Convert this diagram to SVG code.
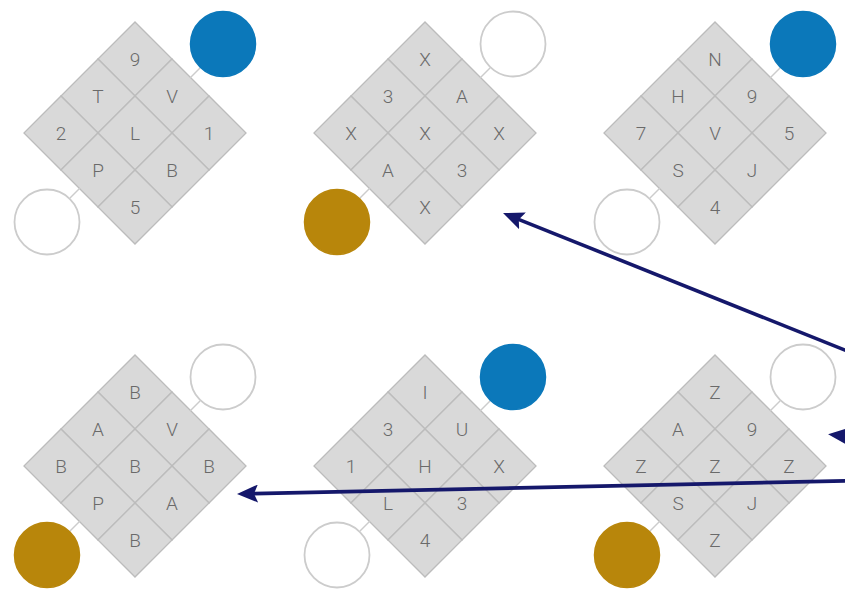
<svg xmlns="http://www.w3.org/2000/svg" width="845" height="592" viewBox="0 0 845 592">
<defs>
<style>
.cell{fill:#d9d9d9;stroke:#bcbcbc;stroke-width:1.3}
.lbl{font-family:Roboto,"Liberation Sans",sans-serif;font-weight:300;font-size:19px;fill:#6a6a6a;text-anchor:middle;dominant-baseline:central}
.blue{fill:#0b78ba;stroke:#0b78ba;stroke-width:1.5}
.gold{fill:#b8860b;stroke:#b8860b;stroke-width:1.5}
.white{fill:#ffffff;stroke:#cccccc;stroke-width:1.8}
.tie{stroke:#cccccc;stroke-width:1.5}
.arrow{stroke:#15186b;stroke-width:3.6;fill:none;marker-end:url(#ah)}
</style>
<marker id="ah" markerUnits="userSpaceOnUse" markerWidth="22" markerHeight="18" viewBox="0 0 22 18" refX="7" refY="9" orient="auto">
<path d="M0,0 L21,9 L0,18 L4,9 z" fill="#15186b"/>
</marker>
<g id="grid">
<g transform="rotate(45)">
<rect class="cell" x="-78.5" y="-78.5" width="52.33" height="52.33"/>
<rect class="cell" x="-26.17" y="-78.5" width="52.33" height="52.33"/>
<rect class="cell" x="26.17" y="-78.5" width="52.33" height="52.33"/>
<rect class="cell" x="-78.5" y="-26.17" width="52.33" height="52.33"/>
<rect class="cell" x="-26.17" y="-26.17" width="52.33" height="52.33"/>
<rect class="cell" x="26.17" y="-26.17" width="52.33" height="52.33"/>
<rect class="cell" x="-78.5" y="26.17" width="52.33" height="52.33"/>
<rect class="cell" x="-26.17" y="26.17" width="52.33" height="52.33"/>
<rect class="cell" x="26.17" y="26.17" width="52.33" height="52.33"/>
</g>
<line class="tie" x1="55" y1="-55" x2="65" y2="-65"/>
<line class="tie" x1="-55" y1="55" x2="-65" y2="65"/>
</g>
</defs>

<g id="node1" transform="translate(135,133)">
<use href="#grid"/>
<circle class="blue" cx="88" cy="-89" r="32.5"/>
<circle class="white" cx="-88" cy="89" r="32.5"/>
<text class="lbl" x="0" y="-74">9</text>
<text class="lbl" x="-37" y="-37">T</text><text class="lbl" x="37" y="-37">V</text>
<text class="lbl" x="-74" y="0">2</text><text class="lbl" x="0" y="0">L</text><text class="lbl" x="74" y="0">1</text>
<text class="lbl" x="-37" y="37">P</text><text class="lbl" x="37" y="37">B</text>
<text class="lbl" x="0" y="74">5</text>
</g>

<g id="node2" transform="translate(425,133)">
<use href="#grid"/>
<circle class="white" cx="88" cy="-89" r="32.5"/>
<circle class="gold" cx="-88" cy="89" r="32.5"/>
<text class="lbl" x="0" y="-74">X</text>
<text class="lbl" x="-37" y="-37">3</text><text class="lbl" x="37" y="-37">A</text>
<text class="lbl" x="-74" y="0">X</text><text class="lbl" x="0" y="0">X</text><text class="lbl" x="74" y="0">X</text>
<text class="lbl" x="-37" y="37">A</text><text class="lbl" x="37" y="37">3</text>
<text class="lbl" x="0" y="74">X</text>
</g>

<g id="node3" transform="translate(715,133)">
<use href="#grid"/>
<circle class="blue" cx="88" cy="-89" r="32.5"/>
<circle class="white" cx="-88" cy="89" r="32.5"/>
<text class="lbl" x="0" y="-74">N</text>
<text class="lbl" x="-37" y="-37">H</text><text class="lbl" x="37" y="-37">9</text>
<text class="lbl" x="-74" y="0">7</text><text class="lbl" x="0" y="0">V</text><text class="lbl" x="74" y="0">5</text>
<text class="lbl" x="-37" y="37">S</text><text class="lbl" x="37" y="37">J</text>
<text class="lbl" x="0" y="74">4</text>
</g>

<g id="node4" transform="translate(135,466)">
<use href="#grid"/>
<circle class="white" cx="88" cy="-89" r="32.5"/>
<circle class="gold" cx="-88" cy="89" r="32.5"/>
<text class="lbl" x="0" y="-74">B</text>
<text class="lbl" x="-37" y="-37">A</text><text class="lbl" x="37" y="-37">V</text>
<text class="lbl" x="-74" y="0">B</text><text class="lbl" x="0" y="0">B</text><text class="lbl" x="74" y="0">B</text>
<text class="lbl" x="-37" y="37">P</text><text class="lbl" x="37" y="37">A</text>
<text class="lbl" x="0" y="74">B</text>
</g>

<g id="node5" transform="translate(425,466)">
<use href="#grid"/>
<circle class="blue" cx="88" cy="-89" r="32.5"/>
<circle class="white" cx="-88" cy="89" r="32.5"/>
<text class="lbl" x="0" y="-74">I</text>
<text class="lbl" x="-37" y="-37">3</text><text class="lbl" x="37" y="-37">U</text>
<text class="lbl" x="-74" y="0">1</text><text class="lbl" x="0" y="0">H</text><text class="lbl" x="74" y="0">X</text>
<text class="lbl" x="-37" y="37">L</text><text class="lbl" x="37" y="37">3</text>
<text class="lbl" x="0" y="74">4</text>
</g>

<g id="node6" transform="translate(715,466)">
<use href="#grid"/>
<circle class="white" cx="88" cy="-89" r="32.5"/>
<circle class="gold" cx="-88" cy="89" r="32.5"/>
<text class="lbl" x="0" y="-74">Z</text>
<text class="lbl" x="-37" y="-37">A</text><text class="lbl" x="37" y="-37">9</text>
<text class="lbl" x="-74" y="0">Z</text><text class="lbl" x="0" y="0">Z</text><text class="lbl" x="74" y="0">Z</text>
<text class="lbl" x="-37" y="37">S</text><text class="lbl" x="37" y="37">J</text>
<text class="lbl" x="0" y="74">Z</text>
</g>

<g id="connectors">
<line class="arrow" x1="862" y1="357" x2="516" y2="218.3"/>
<line class="arrow" x1="872" y1="439" x2="842" y2="435.7"/>
<line class="arrow" x1="862" y1="480.5" x2="251" y2="493.7"/>
</g>
</svg>
